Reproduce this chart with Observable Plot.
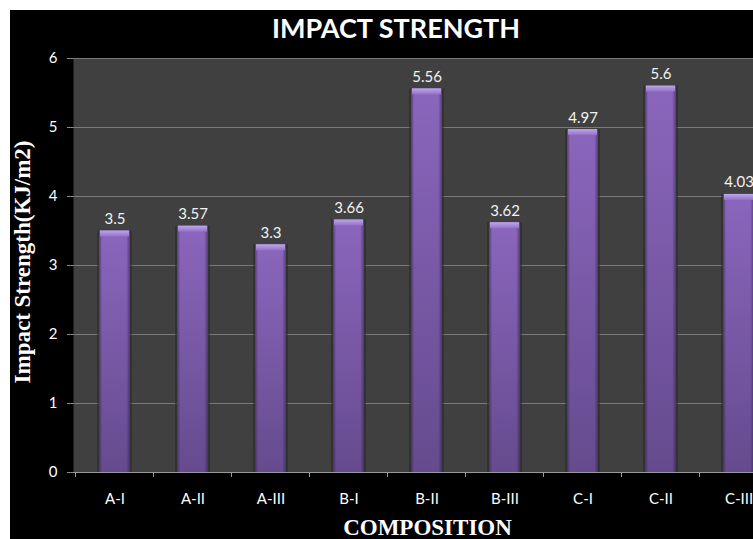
<!DOCTYPE html>
<html><head><meta charset="utf-8">
<script src="https://cdn.jsdelivr.net/npm/d3@7"></script>
<script src="https://cdn.jsdelivr.net/npm/@observablehq/plot@0.6"></script>
<style>
html,body{margin:0;padding:0;background:#fff;overflow:hidden;width:753px;height:539px}
#wrap{position:absolute;left:10px;top:10px;width:743px;height:529px;background:#000;overflow:hidden}
#wrap svg{position:absolute;left:0;top:0;max-width:none;overflow:visible}
</style></head>
<body><div id="wrap"></div>
<script>
const categories = ["A-I","A-II","A-III","B-I","B-II","B-III","C-I","C-II","C-III"];
const values = [3.5, 3.57, 3.3, 3.66, 5.56, 3.62, 4.97, 5.6, 4.03];
const valueLabels = ["3.5","3.57","3.3","3.66","5.56","3.62","4.97","5.6","4.03"];
const yTicks = [0, 1, 2, 3, 4, 5, 6];
const titleText = "IMPACT STRENGTH";
const yLabelText = "Impact Strength(KJ/m2)";
const xLabelText = "COMPOSITION";

const data = categories.map((c, i) => ({cat: c, v: values[i], label: valueLabels[i]}));

const W = 770, H = 529, ML = 63, MT = 48, MB = 67, MR = 0;
const pxPerUnit = (H - MT - MB) / 6;
const bevel = 6 / pxPerUnit;

const plot = Plot.plot({
  width: W, height: H,
  marginLeft: ML, marginTop: MT, marginBottom: MB, marginRight: MR,
  style: {background: "transparent", color: "#fff", fontFamily: "Lato, sans-serif"},
  x: {domain: categories, paddingInner: 0.6, paddingOuter: 0.3, label: null},
  y: {domain: [0, 6], label: null},
  marks: [
    Plot.frame({fill: "#404040", stroke: null}),
    Plot.gridY(yTicks.slice(1), {stroke: "#7a7a7a", strokeOpacity: 1}),
    Plot.barY(data, {x: "cat", y: "v", fill: "#262626", fillOpacity: 0.55, insetLeft: -2, insetRight: -2}),
    Plot.barY(data, {x: "cat", y: "v", fill: "url(#barGrad)"}),
    Plot.barY(data, {x: "cat", y: "v", fill: "url(#edgeGrad)"}),
    Plot.barY(data, {x: "cat", y1: d => d.v, y2: d => d.v - bevel, fill: "url(#bevelGrad)", insetLeft: 1, insetRight: 1}),
    Plot.ruleY([0], {stroke: "#9a9a9a"}),
    Plot.axisY(yTicks, {tickSize: 6, tickPadding: 10, tickFormat: d => String(d), stroke: "#8a8a8a", fill: "#fff", fontSize: 15, label: null}),
    Plot.axisX({tickSize: 0, tickPadding: 21, fill: "#fff", fontSize: 15, label: null}),
    Plot.text(data, {x: "cat", y: "v", text: "label", lineAnchor: "bottom", dy: -7, fill: "#f2f2f2", fontSize: 15})
  ]
});

document.getElementById("wrap").appendChild(plot);

const svg = d3.select(plot);
const defs = svg.insert("defs", ":first-child");
const g1 = defs.append("linearGradient").attr("id", "barGrad").attr("x1", 0).attr("y1", 0).attr("x2", 0).attr("y2", 1);
g1.append("stop").attr("offset", 0).attr("stop-color", "#8b66bd");
g1.append("stop").attr("offset", 1).attr("stop-color", "#654b8e");
const g2 = defs.append("linearGradient").attr("id", "edgeGrad").attr("x1", 0).attr("y1", 0).attr("x2", 1).attr("y2", 0);
g2.append("stop").attr("offset", 0).attr("stop-color", "#2a1c40").attr("stop-opacity", 0.55);
g2.append("stop").attr("offset", 0.1).attr("stop-color", "#2a1c40").attr("stop-opacity", 0);
g2.append("stop").attr("offset", 0.88).attr("stop-color", "#2a1c40").attr("stop-opacity", 0);
g2.append("stop").attr("offset", 1).attr("stop-color", "#2a1c40").attr("stop-opacity", 0.55);
const g3 = defs.append("linearGradient").attr("id", "bevelGrad").attr("x1", 0).attr("y1", 0).attr("x2", 0).attr("y2", 1);
g3.append("stop").attr("offset", 0).attr("stop-color", "#bda6ea");
g3.append("stop").attr("offset", 1).attr("stop-color", "#9272c6");

// boundary ticks on the x axis, from the band scale
const sx = plot.scale("x");
const step = sx.step || (W - ML - MR) / categories.length;
const bw = sx.bandwidth || step * 0.4;
const y0 = H - MB;
const tg = svg.append("g").attr("stroke", "#9a9a9a");
categories.forEach(c => {
  const b = sx.apply(c) - (step - bw) / 2;
  tg.append("line").attr("x1", b).attr("x2", b).attr("y1", y0).attr("y2", y0 + 5);
});

// titles
svg.append("text").text(titleText)
  .attr("x", 386).attr("y", 28).attr("text-anchor", "middle")
  .attr("fill", "#fff").style("font", "bold 27px Lato, sans-serif");
svg.append("text").text(yLabelText)
  .attr("transform", "translate(20,252) rotate(-90)").attr("text-anchor", "middle")
  .attr("fill", "#fff").style("font", "bold 23px 'Liberation Serif', serif");
svg.append("text").text(xLabelText)
  .attr("x", 417.5).attr("y", 525).attr("text-anchor", "middle")
  .attr("fill", "#fff").style("font", "bold 23px 'Liberation Serif', serif");
</script>
</body></html>
